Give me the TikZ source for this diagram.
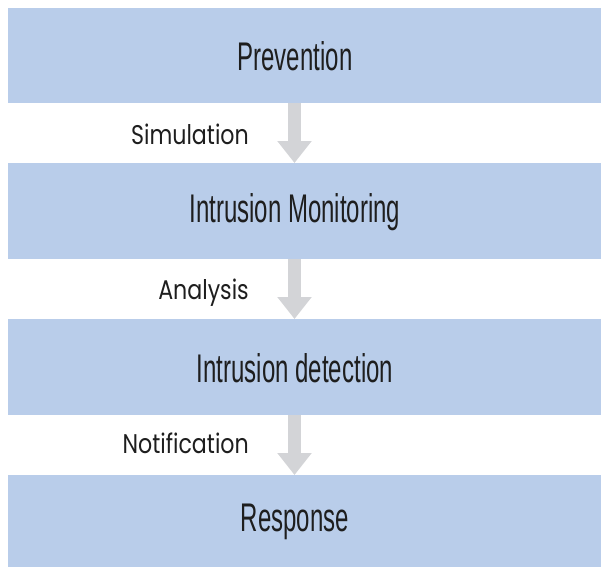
\documentclass[tikz,border=0pt]{standalone}
\usepackage{fontspec}
\usetikzlibrary{arrows.meta}
\newfontfamily\boxfont[FakeStretch=0.6]{Liberation Sans}
\newfontfamily\labfont[FakeStretch=0.82]{Poppins}
\definecolor{boxblue}{HTML}{B9CDEA}
\definecolor{arrowgray}{HTML}{D3D4D7}
\definecolor{txt}{HTML}{1E1E1E}
\tikzset{
  stage/.style={fill=boxblue, draw=none, inner sep=0pt},
  stagetext/.style={font=\boxfont\fontsize{40}{44}\selectfont, text=txt, inner sep=0pt},
  flowlabel/.style={font=\labfont\fontsize{27}{30}\selectfont, text=txt, inner sep=0pt, anchor=base east},
  flowarrow/.style={draw=arrowgray, line width=13pt, -{Triangle[width=33pt,length=22pt]}, shorten <=-0.5pt}
}
\begin{document}
\begin{tikzpicture}[x=1pt,y=-1pt]
\useasboundingbox (0,0) rectangle (601,567);
\fill[white] (0,0) rectangle (601,567);
% boxes
\node[stage, minimum width=593pt, minimum height=95pt, anchor=north west] (b1) at (8,8) {};
\node[stage, minimum width=593pt, minimum height=96pt, anchor=north west] (b2) at (8,163) {};
\node[stage, minimum width=593pt, minimum height=96pt, anchor=north west] (b3) at (8,319) {};
\node[stage, minimum width=593pt, minimum height=92pt, anchor=north west] (b4) at (8,475) {};
% box texts
\node[stagetext] (t1) at (295,56) {Prevention};
\node[stagetext] (t2) at (295,212) {Intrusion Monitoring};
\node[stagetext] (t3) at (295,368) {Intrusion detection};
\node[stagetext] (t4) at (295,522) {Response};
% arrows
\coordinate (a1s) at (294.5,103);
\draw[flowarrow] (a1s) -- (a1s |- b2.north);
\coordinate (a2s) at (294.5,259);
\draw[flowarrow] (a2s) -- (a2s |- b3.north);
\coordinate (a3s) at (294.5,415);
\draw[flowarrow] (a3s) -- (a3s |- b4.north);
% labels
\node[flowlabel] (l1) at (249,144) {Simulation};
\node[flowlabel] (l2) at (249,299) {Analysis};
\node[flowlabel] (l3) at (249,453) {Notification};
\end{tikzpicture}
\end{document}
